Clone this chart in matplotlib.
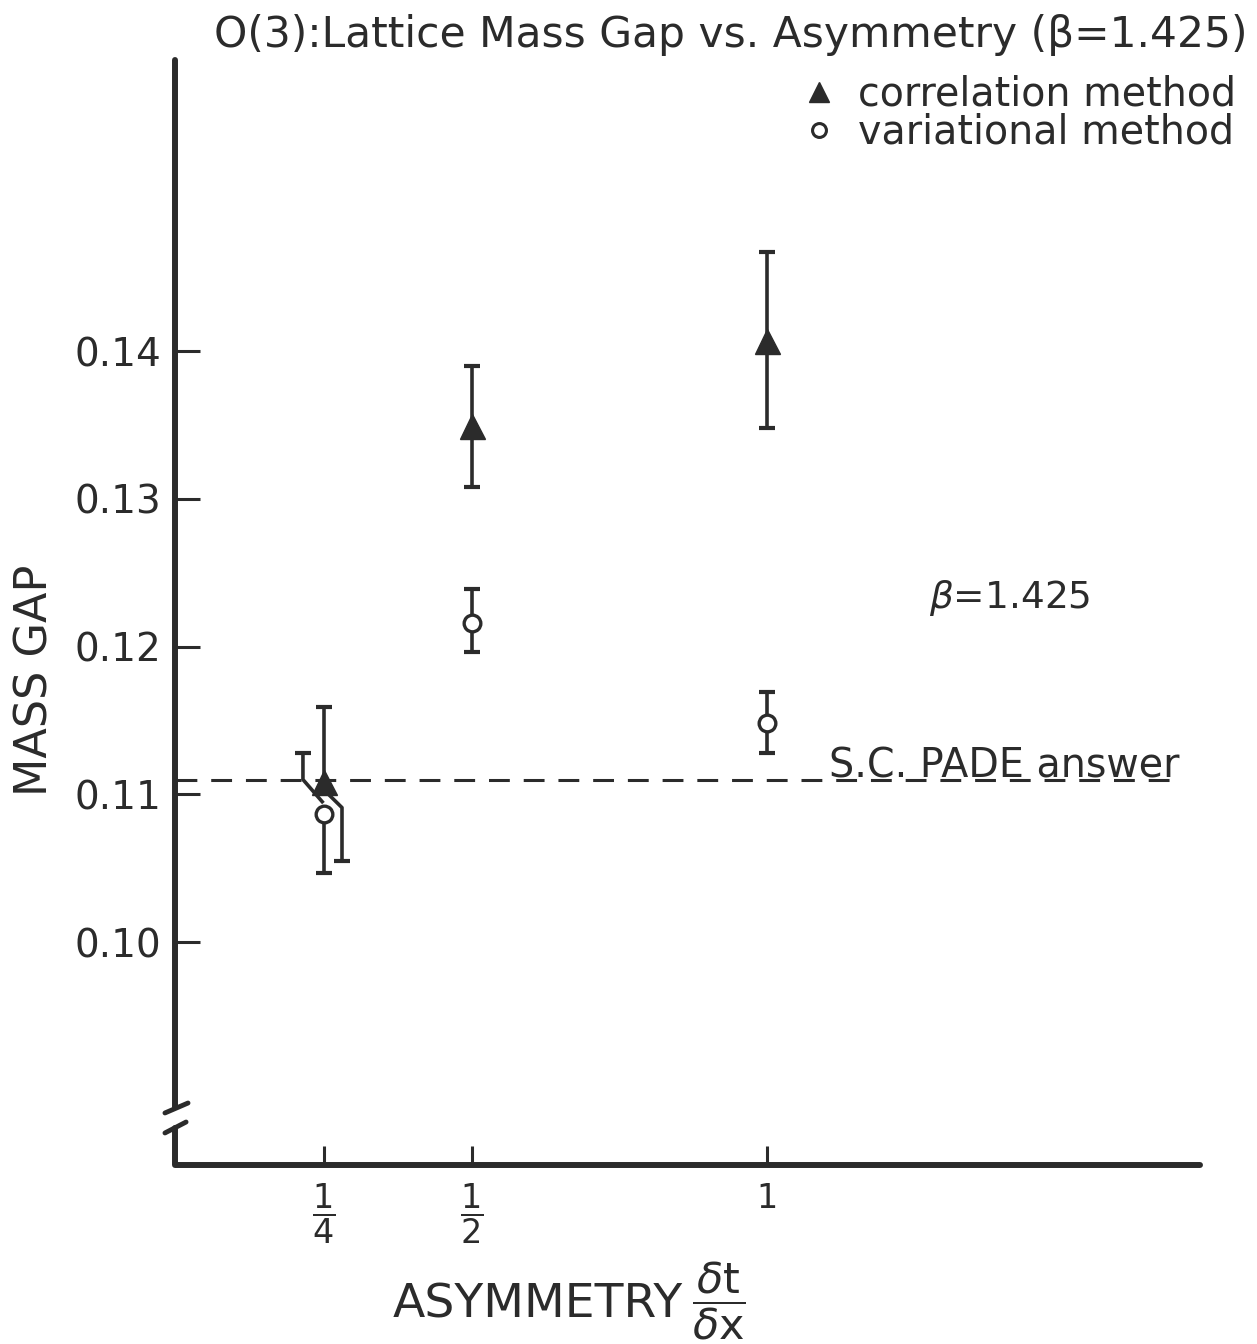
import numpy as np
import matplotlib
matplotlib.use('Agg')
import matplotlib.pyplot as plt
from matplotlib.lines import Line2D

plt.rcParams['font.family'] = ['DejaVu Sans']
plt.rcParams['mathtext.fontset'] = 'dejavusans'
plt.rcParams['lines.scale_dashes'] = False

ink = '#2b2b2b'

# Daten
asym = [0.25, 0.5, 1.0]
corr_val = [0.1108, 0.1349, 0.1407]
corr_lo = [0.1055, 0.1308, 0.1348]
corr_hi = [0.1159, 0.1390, 0.1467]
var_val = [0.1087, 0.1216, 0.1148]
var_lo = [0.1047, 0.1196, 0.1128]
var_hi = [0.1128, 0.1239, 0.1169]
pade = 0.111

yticks = [0.10, 0.11, 0.12, 0.13, 0.14]
ytick_labels = ['0.10', '0.11', '0.12', '0.13', '0.14']
xticks = [0.25, 0.5, 1.0]
xtick_labels = [r'$\dfrac{1}{4}$', r'$\dfrac{1}{2}$', '1']

fig = plt.figure(figsize=(12.57, 13.44), dpi=100)
ax = fig.add_axes([0.13922, 0.13318, 0.81543, 0.82217])
ax.set_xlim(-0.0022, 1.733)
ax.set_ylim(0.08491, 0.1597)

for s in ax.spines.values():
    s.set_visible(False)

# Achsen von Hand (mit Bruch)
lw_ax = 4.3
ax.plot([0, 0], [1, 0.0525], color=ink, lw=lw_ax, transform=ax.transAxes,
        clip_on=False, solid_capstyle='round')
ax.plot([0, 0, 1], [0.0335, 0, 0], color=ink, lw=lw_ax, transform=ax.transAxes,
        clip_on=False, solid_joinstyle='round', solid_capstyle='round')
ax.plot([-0.0098, 0.0127], [0.0471, 0.0561], color=ink, lw=3.5,
        transform=ax.transAxes, clip_on=False, solid_capstyle='round')
ax.plot([-0.0098, 0.0108], [0.029, 0.0389], color=ink, lw=3.5,
        transform=ax.transAxes, clip_on=False, solid_capstyle='round')

ax.set_yticks(yticks)
ax.set_yticklabels(ytick_labels)
ax.set_xticks(xticks)
ax.set_xticklabels(xtick_labels)
ax.tick_params(axis='y', direction='in', length=18, width=2.2, color=ink,
               labelsize=28, pad=10, labelcolor=ink)
ax.tick_params(axis='x', direction='in', length=14, width=2.2, color=ink,
               labelsize=24, pad=12, labelcolor=ink)

# S.C. PADE Linie
ax.hlines(pade, 0, 1.70, colors=ink, lw=2.2, linestyles=(0, (15, 10)))
ax.text(1.699, pade + 0.00015, 'S.C. PADE answer', fontsize=28.5, color=ink,
        ha='right', va='baseline')

cap = 6
elw = 2.6
ebkw = dict(fmt='none', ecolor=ink, elinewidth=elw, capsize=cap, capthick=3)

# normale Fehlerbalken (1/2 und 1)
for i in [1, 2]:
    ax.errorbar(asym[i], corr_val[i],
                yerr=[[corr_val[i] - corr_lo[i]], [corr_hi[i] - corr_val[i]]], **ebkw)
    ax.errorbar(asym[i], var_val[i],
                yerr=[[var_val[i] - var_lo[i]], [var_hi[i] - var_val[i]]], **ebkw)

# bei 1/4 ueberlappen sich die Balken -> abgeknickt gezeichnet
x0 = asym[0]
dxl = -0.0356
dxr = 0.0305
# correlation: oben gerade, unten nach rechts versetzt
ax.plot([x0, x0], [corr_val[0], corr_hi[0]], color=ink, lw=elw)
ax.plot([x0, x0 + dxr, x0 + dxr],
        [corr_val[0] - 0.0005, corr_val[0] - 0.0017, corr_lo[0]],
        color=ink, lw=elw, solid_joinstyle='round')
ax.plot([x0, x0 + dxr], [corr_hi[0], corr_lo[0]], ls='none', marker='_',
        ms=2 * cap, mew=3, color=ink)
# variational: oben nach links versetzt, unten gerade
ax.plot([x0 + dxl, x0 + dxl, x0 - 0.003],
        [var_hi[0], var_val[0] + 0.0023, var_val[0] + 0.0008],
        color=ink, lw=elw, solid_joinstyle='round')
ax.plot([x0, x0], [var_val[0], var_lo[0]], color=ink, lw=elw)
ax.plot([x0 + dxl, x0], [var_hi[0], var_lo[0]], ls='none', marker='_',
        ms=2 * cap, mew=3, color=ink)

# Marker
ax.plot(asym, corr_val, ls='none', marker='^', ms=18, color=ink, mec=ink, zorder=5)
ax.plot(asym, var_val, ls='none', marker='o', ms=12, mfc='white', mec=ink,
        mew=2.4, zorder=5)

ax.text(1.411, 0.12327, r'$\beta$=1.425', fontsize=27, color=ink,
        ha='center', va='center')

fig.text(35 / 1257, 1 - 680 / 1344, 'MASS GAP', fontsize=32, color=ink,
         rotation=90, ha='center', va='center')
fig.text(393 / 1257, 1 - 1317 / 1344, 'ASYMMETRY',
         fontsize=34, color=ink, ha='left', va='baseline')
fig.text(692 / 1257, 1 - 1301 / 1344,
         r'$\dfrac{\delta \mathrm{t}}{\delta \mathrm{x}}$',
         fontsize=31, color=ink, ha='left', va='center')

fig.text(0.5816, 0.974, 'O(3):Lattice Mass Gap vs. Asymmetry (β=1.425)',
         fontsize=30.5, color=ink, ha='center', va='center')

handles = [Line2D([], [], ls='none', marker='^', ms=15, color=ink),
           Line2D([], [], ls='none', marker='o', ms=10, mfc='white', mec=ink, mew=2.2)]
ax.legend(handles, ['correlation method', 'variational method'],
          loc='upper right', bbox_to_anchor=(0.9995, 0.959),
          bbox_transform=fig.transFigure, frameon=False, fontsize=28.5,
          handlelength=0.8, handletextpad=0.6, labelspacing=-0.05,
          borderpad=0, labelcolor=ink)

plt.savefig('out.png', dpi=100)
